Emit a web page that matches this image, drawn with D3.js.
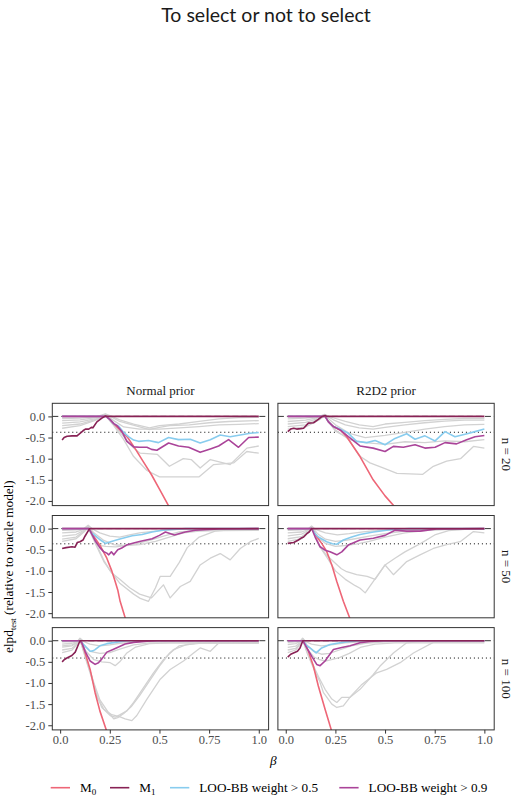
<!DOCTYPE html>
<html>
<head>
<meta charset="utf-8">
<script src="https://cdn.jsdelivr.net/npm/d3@7"></script>
<style>
  body { margin: 0; background: #fff; }
</style>
</head>
<body>
<div id="chart"></div>
<script>
// ---- data -------------------------------------------------------------
const priors = ['Normal prior', 'R2D2 prior'];
const sizes = ['n = 20', 'n = 50', 'n = 100'];
const xTicks = [0, 0.25, 0.5, 0.75, 1];
const xTickLabels = ['0.0', '0.25', '0.5', '0.75', '1.0'];
const yTicks = [0, -0.5, -1, -1.5, -2];
const yTickLabels = ['0.0', '-0.5', '-1.0', '-1.5', '-2.0'];
const refLevel = [-0.375, -0.36, -0.41]; // dotted line, one per n

// [beta, elpd] pairs, one list per panel:
// normal n20, r2d2 n20, normal n50, r2d2 n50, normal n100, r2d2 n100
const m0 = [
  [[0.01,0],[0.23,0],[0.25,-0.07],[0.28,-0.22],[0.31,-0.36],[0.34,-0.5],[0.38,-0.78],[0.42,-1.08],[0.46,-1.38],[0.5,-1.72],[0.55,-2.15]],
  [[0.01,0],[0.198,0],[0.215,-0.13],[0.24,-0.24],[0.274,-0.32],[0.307,-0.48],[0.374,-0.95],[0.44,-1.5],[0.5,-1.88],[0.56,-2.2]],
  [[0.01,0],[0.145,0],[0.16,-0.1],[0.175,-0.22],[0.2,-0.39],[0.235,-0.7],[0.26,-1.0],[0.277,-1.25],[0.29,-1.45],[0.302,-1.72],[0.33,-2.15]],
  [[0.01,0],[0.131,0],[0.15,-0.15],[0.181,-0.35],[0.206,-0.54],[0.232,-0.86],[0.257,-1.25],[0.29,-1.72],[0.325,-2.15]],
  [[0.01,0],[0.1,0],[0.113,-0.1],[0.126,-0.29],[0.151,-0.68],[0.176,-1.23],[0.2,-1.66],[0.235,-2.15]],
  [[0.01,0],[0.086,0],[0.1,-0.1],[0.114,-0.25],[0.139,-0.6],[0.164,-1.07],[0.198,-1.62],[0.23,-2.12]]
];
const m1 = [
  [[0.01,-0.56],[0.02,-0.5],[0.035,-0.47],[0.06,-0.46],[0.085,-0.46],[0.1,-0.4],[0.115,-0.34],[0.127,-0.3],[0.144,-0.3],[0.157,-0.26],[0.165,-0.27],[0.185,-0.13],[0.21,-0.04],[0.228,0.01],[0.24,0],[1,0]],
  [[0.01,-0.36],[0.025,-0.3],[0.04,-0.28],[0.055,-0.3],[0.075,-0.29],[0.09,-0.28],[0.114,-0.16],[0.14,-0.15],[0.164,-0.07],[0.18,-0.01],[0.198,0.02],[0.21,0],[1,0]],
  [[0.01,-0.47],[0.03,-0.45],[0.06,-0.43],[0.075,-0.44],[0.086,-0.33],[0.1,-0.31],[0.115,-0.27],[0.125,-0.18],[0.148,0],[1,0]],
  [[0.01,-0.35],[0.04,-0.33],[0.064,-0.27],[0.076,-0.23],[0.09,-0.2],[0.106,-0.12],[0.118,-0.08],[0.131,0],[1,0]],
  [[0.01,-0.5],[0.02,-0.45],[0.034,-0.41],[0.059,-0.35],[0.076,-0.27],[0.092,-0.09],[0.1,0],[1,0]],
  [[0.01,-0.39],[0.025,-0.32],[0.039,-0.29],[0.059,-0.25],[0.072,-0.17],[0.086,0],[1,0]]
];
const looBB05 = [
  [[0.01,0],[0.23,0],[0.25,-0.07],[0.27,-0.17],[0.294,-0.23],[0.32,-0.38],[0.344,-0.48],[0.37,-0.56],[0.395,-0.59],[0.445,-0.57],[0.495,-0.62],[0.546,-0.5],[0.596,-0.55],[0.655,-0.54],[0.705,-0.63],[0.756,-0.55],[0.806,-0.44],[0.856,-0.48],[0.907,-0.44],[0.957,-0.4],[1,-0.38]],
  [[0.01,0],[0.198,0],[0.215,-0.13],[0.24,-0.24],[0.274,-0.3],[0.315,-0.4],[0.357,-0.59],[0.408,-0.62],[0.45,-0.57],[0.5,-0.67],[0.55,-0.52],[0.609,-0.41],[0.651,-0.54],[0.701,-0.46],[0.752,-0.58],[0.802,-0.36],[0.852,-0.48],[0.903,-0.42],[0.953,-0.36],[1,-0.3]],
  [[0.01,0],[0.145,0],[0.158,-0.1],[0.17,-0.14],[0.203,-0.27],[0.228,-0.35],[0.254,-0.31],[0.296,-0.25],[0.363,-0.17],[0.413,-0.14],[0.463,-0.08],[0.514,-0.04],[0.564,-0.02],[0.63,0],[1,0]],
  [[0.01,0],[0.131,0],[0.148,-0.12],[0.164,-0.2],[0.206,-0.31],[0.235,-0.36],[0.257,-0.37],[0.29,-0.27],[0.332,-0.2],[0.374,-0.14],[0.441,-0.08],[0.508,-0.04],[0.575,-0.01],[0.62,0],[1,0]],
  [[0.01,0],[0.1,0],[0.118,-0.09],[0.151,-0.25],[0.165,-0.24],[0.176,-0.21],[0.2,-0.12],[0.235,-0.07],[0.277,-0.04],[0.336,0],[1,0]],
  [[0.01,0],[0.086,0],[0.106,-0.12],[0.122,-0.17],[0.153,-0.29],[0.181,-0.17],[0.223,-0.09],[0.273,-0.05],[0.324,-0.02],[0.374,0],[1,0]]
];
const looBB09 = [
  [[0.01,0],[0.23,0],[0.25,-0.07],[0.27,-0.17],[0.287,-0.22],[0.31,-0.35],[0.336,-0.59],[0.37,-0.72],[0.4,-0.73],[0.437,-0.73],[0.46,-0.78],[0.487,-0.8],[0.546,-0.63],[0.596,-0.7],[0.647,-0.73],[0.705,-0.85],[0.756,-0.77],[0.798,-0.7],[0.848,-0.55],[0.898,-0.73],[0.949,-0.5],[1,-0.49]],
  [[0.01,0],[0.198,0],[0.215,-0.13],[0.24,-0.24],[0.274,-0.32],[0.315,-0.48],[0.374,-0.7],[0.44,-0.75],[0.5,-0.83],[0.542,-0.71],[0.592,-0.73],[0.651,-0.67],[0.701,-0.75],[0.752,-0.73],[0.802,-0.62],[0.86,-0.65],[0.911,-0.55],[0.953,-0.48],[1,-0.45]],
  [[0.01,0],[0.145,0],[0.158,-0.12],[0.178,-0.3],[0.2,-0.45],[0.22,-0.55],[0.235,-0.58],[0.245,-0.62],[0.258,-0.55],[0.27,-0.62],[0.29,-0.5],[0.31,-0.46],[0.338,-0.38],[0.37,-0.34],[0.405,-0.3],[0.463,-0.24],[0.5,-0.16],[0.53,-0.08],[0.575,-0.15],[0.63,-0.08],[0.68,-0.04],[0.8,-0.01],[1,0]],
  [[0.01,0],[0.131,0],[0.148,-0.2],[0.173,-0.43],[0.198,-0.51],[0.223,-0.55],[0.257,-0.62],[0.282,-0.55],[0.315,-0.39],[0.374,-0.27],[0.441,-0.23],[0.5,-0.16],[0.55,-0.04],[0.609,-0.06],[0.676,-0.06],[0.76,-0.01],[1,0]],
  [[0.01,0],[0.1,0],[0.109,-0.05],[0.126,-0.25],[0.151,-0.48],[0.176,-0.56],[0.193,-0.52],[0.21,-0.43],[0.235,-0.27],[0.269,-0.2],[0.294,-0.15],[0.327,-0.08],[0.37,-0.04],[0.437,-0.01],[0.487,0],[1,0]],
  [[0.01,0],[0.086,0],[0.106,-0.17],[0.131,-0.37],[0.156,-0.56],[0.173,-0.59],[0.198,-0.48],[0.215,-0.37],[0.24,-0.21],[0.282,-0.16],[0.324,-0.12],[0.374,-0.05],[0.424,-0.02],[0.49,0],[1,0]]
];
// other selection rules, drawn in grey
const others = [
  [
    [[0.01,-0.05],[0.1,-0.04],[0.18,-0.01],[0.228,0.06],[0.26,0],[0.3,-0.08],[0.37,-0.18],[0.45,-0.27],[0.5,-0.22],[0.6,-0.18],[0.7,-0.12],[0.8,-0.06],[0.9,-0.03],[1,-0.02]],
    [[0.01,-0.1],[0.1,-0.08],[0.18,-0.03],[0.228,0.05],[0.26,-0.02],[0.3,-0.12],[0.4,-0.25],[0.45,-0.31],[0.5,-0.26],[0.55,-0.22],[0.65,-0.2],[0.75,-0.15],[0.85,-0.12],[1,-0.1]],
    [[0.01,-0.16],[0.1,-0.13],[0.18,-0.05],[0.228,0.04],[0.27,-0.1],[0.32,-0.25],[0.4,-0.3],[0.5,-0.3],[0.6,-0.27],[0.7,-0.24],[0.8,-0.2],[0.9,-0.19],[1,-0.17]],
    [[0.01,-0.22],[0.1,-0.18],[0.18,-0.07],[0.228,0.03],[0.27,-0.2],[0.32,-0.48],[0.37,-0.75],[0.403,-0.87],[0.49,-0.9],[0.55,-1.18],[0.62,-1.0],[0.66,-1.02],[0.705,-1.22],[0.756,-1.02],[0.856,-1.14],[0.94,-0.75],[1,-0.7]],
    [[0.01,-0.28],[0.1,-0.22],[0.18,-0.09],[0.228,0.02],[0.27,-0.22],[0.32,-0.55],[0.37,-0.95],[0.437,-1.28],[0.5,-1.43],[0.7,-1.43],[0.773,-1.14],[0.873,-1.1],[0.94,-0.83],[1,-0.87]]
  ],
  [
    [[0.01,-0.06],[0.1,-0.04],[0.17,0],[0.195,0.05],[0.23,-0.02],[0.3,-0.12],[0.37,-0.2],[0.44,-0.24],[0.5,-0.18],[0.6,-0.14],[0.7,-0.1],[0.8,-0.07],[0.9,-0.05],[1,-0.05]],
    [[0.01,-0.12],[0.1,-0.09],[0.17,-0.02],[0.195,0.04],[0.24,-0.08],[0.3,-0.2],[0.37,-0.27],[0.44,-0.3],[0.5,-0.26],[0.6,-0.2],[0.7,-0.15],[0.8,-0.11],[0.9,-0.09],[1,-0.09]],
    [[0.01,-0.18],[0.1,-0.14],[0.17,-0.04],[0.195,0.03],[0.25,-0.2],[0.32,-0.4],[0.4,-0.5],[0.5,-0.45],[0.6,-0.38],[0.7,-0.3],[0.8,-0.24],[0.9,-0.2],[1,-0.19]],
    [[0.01,-0.24],[0.1,-0.2],[0.17,-0.06],[0.195,0.02],[0.25,-0.32],[0.32,-0.55],[0.4,-0.62],[0.5,-0.66],[0.6,-0.6],[0.7,-0.62],[0.8,-0.58],[0.9,-0.6],[1,-0.55]],
    [[0.01,-0.3],[0.1,-0.25],[0.17,-0.08],[0.195,0.01],[0.25,-0.35],[0.31,-0.5],[0.37,-0.93],[0.424,-1.1],[0.49,-1.22],[0.56,-1.35],[0.69,-1.37],[0.743,-1.18],[0.81,-1.06],[0.88,-1.0],[0.945,-0.71],[1,-0.75]]
  ],
  [
    [[0.01,-0.04],[0.08,-0.03],[0.12,0],[0.141,0.08],[0.16,0],[0.2,-0.1],[0.25,-0.18],[0.3,-0.2],[0.35,-0.15],[0.4,-0.1],[0.5,-0.05],[0.6,-0.02],[0.8,0],[1,0]],
    [[0.01,-0.1],[0.08,-0.08],[0.12,-0.02],[0.141,0.06],[0.17,-0.1],[0.22,-0.28],[0.27,-0.38],[0.32,-0.4],[0.38,-0.36],[0.45,-0.28],[0.52,-0.18],[0.6,-0.08],[0.7,-0.04],[0.8,-0.02],[1,-0.02]],
    [[0.01,-0.18],[0.08,-0.14],[0.12,-0.04],[0.141,0.04],[0.17,-0.2],[0.2,-0.4],[0.23,-0.42],[0.28,-0.43],[0.33,-0.4],[0.4,-0.38],[0.48,-0.3],[0.55,-0.2],[0.62,-0.1],[0.7,-0.06],[0.8,-0.05],[1,-0.04]],
    [[0.01,-0.25],[0.08,-0.2],[0.12,-0.06],[0.141,0.03],[0.18,-0.35],[0.22,-0.75],[0.252,-1.0],[0.302,-1.3],[0.37,-1.55],[0.403,-1.65],[0.445,-1.72],[0.48,-1.4],[0.504,-1.13],[0.554,-1.13],[0.6,-0.8],[0.64,-0.45],[0.7,-0.2],[0.78,-0.06],[0.85,-0.03],[1,-0.03]],
    [[0.01,-0.3],[0.08,-0.24],[0.12,-0.08],[0.141,0.02],[0.18,-0.38],[0.22,-0.78],[0.26,-1.05],[0.3,-1.2],[0.35,-1.4],[0.4,-1.55],[0.46,-1.64],[0.52,-1.33],[0.554,-1.64],[0.605,-1.37],[0.655,-1.25],[0.705,-0.86],[0.756,-0.7],[0.806,-0.59],[0.856,-0.74],[0.907,-0.47],[0.957,-0.31],[1,-0.23]]
  ],
  [
    [[0.01,-0.04],[0.08,-0.03],[0.115,0],[0.13,0.06],[0.15,-0.02],[0.2,-0.1],[0.26,-0.15],[0.32,-0.12],[0.4,-0.07],[0.5,-0.03],[0.6,-0.01],[1,0]],
    [[0.01,-0.1],[0.08,-0.08],[0.115,-0.02],[0.13,0.05],[0.16,-0.12],[0.2,-0.25],[0.25,-0.3],[0.3,-0.28],[0.35,-0.24],[0.42,-0.18],[0.5,-0.12],[0.6,-0.06],[0.7,-0.03],[1,-0.01]],
    [[0.01,-0.17],[0.08,-0.13],[0.115,-0.04],[0.13,0.04],[0.16,-0.2],[0.2,-0.35],[0.25,-0.42],[0.3,-0.4],[0.36,-0.36],[0.42,-0.3],[0.5,-0.2],[0.6,-0.1],[0.7,-0.05],[0.8,-0.02],[1,-0.02]],
    [[0.01,-0.24],[0.08,-0.19],[0.115,-0.06],[0.13,0.03],[0.17,-0.4],[0.2,-0.6],[0.24,-0.78],[0.28,-0.95],[0.307,-1.02],[0.357,-1.09],[0.41,-1.13],[0.45,-1.2],[0.5,-0.86],[0.55,-0.7],[0.6,-0.55],[0.68,-0.35],[0.75,-0.15],[0.82,-0.05],[0.9,-0.02],[1,-0.02]],
    [[0.01,-0.3],[0.08,-0.24],[0.115,-0.08],[0.13,0.02],[0.17,-0.42],[0.21,-0.7],[0.25,-1.0],[0.3,-1.2],[0.35,-1.35],[0.374,-1.41],[0.4,-1.52],[0.441,-1.25],[0.5,-0.86],[0.542,-1.09],[0.609,-0.78],[0.676,-0.62],[0.743,-0.47],[0.81,-0.38],[0.878,-0.31],[0.945,-0.07],[1,-0.1]]
  ],
  [
    [[0.01,-0.03],[0.06,-0.02],[0.09,0],[0.1,0.06],[0.12,-0.02],[0.15,-0.08],[0.2,-0.12],[0.25,-0.1],[0.3,-0.06],[0.4,-0.03],[0.5,-0.01],[1,0]],
    [[0.01,-0.08],[0.06,-0.06],[0.09,-0.01],[0.1,0.05],[0.12,-0.1],[0.15,-0.25],[0.2,-0.3],[0.25,-0.28],[0.3,-0.2],[0.37,-0.1],[0.45,-0.05],[0.55,-0.05],[0.7,-0.05],[1,-0.05]],
    [[0.01,-0.15],[0.06,-0.12],[0.09,-0.03],[0.1,0.04],[0.13,-0.25],[0.17,-0.45],[0.21,-0.5],[0.252,-0.52],[0.277,-0.59],[0.3,-0.5],[0.336,-0.29],[0.38,-0.15],[0.45,-0.07],[0.55,-0.05],[1,-0.05]],
    [[0.01,-0.12],[0.06,-0.1],[0.09,-0.02],[0.1,0.05],[0.13,-0.42],[0.17,-1.0],[0.2,-1.4],[0.24,-1.68],[0.27,-1.85],[0.29,-1.82],[0.32,-1.72],[0.36,-1.55],[0.4,-1.3],[0.45,-0.95],[0.5,-0.6],[0.55,-0.3],[0.6,-0.12],[0.7,-0.05],[1,-0.05]],
    [[0.01,-0.22],[0.06,-0.18],[0.09,-0.05],[0.1,0.03],[0.13,-0.4],[0.16,-0.85],[0.185,-1.3],[0.21,-1.58],[0.252,-1.77],[0.277,-1.81],[0.302,-1.75],[0.336,-1.66],[0.37,-1.46],[0.403,-1.23],[0.47,-0.76],[0.52,-0.45],[0.571,-0.21],[0.638,-0.09],[0.7,-0.06],[1,-0.05]],
    [[0.01,-0.28],[0.06,-0.22],[0.09,-0.06],[0.1,0.02],[0.13,-0.45],[0.16,-0.9],[0.19,-1.35],[0.22,-1.62],[0.26,-1.75],[0.302,-1.8],[0.327,-1.85],[0.361,-1.89],[0.386,-1.77],[0.437,-1.38],[0.504,-0.91],[0.554,-0.68],[0.621,-0.48],[0.672,-0.29],[0.705,-0.17],[0.756,-0.25],[0.806,-0.02],[1,-0.05]]
  ],
  [
    [[0.01,-0.04],[0.05,-0.03],[0.075,0],[0.085,0.06],[0.1,-0.02],[0.13,-0.08],[0.18,-0.12],[0.23,-0.1],[0.3,-0.05],[0.4,-0.02],[1,0]],
    [[0.01,-0.09],[0.05,-0.07],[0.075,-0.01],[0.085,0.05],[0.11,-0.12],[0.14,-0.25],[0.18,-0.32],[0.22,-0.3],[0.27,-0.22],[0.33,-0.12],[0.4,-0.06],[0.5,-0.03],[0.6,-0.02],[1,-0.02]],
    [[0.01,-0.16],[0.05,-0.13],[0.075,-0.03],[0.085,0.04],[0.11,-0.2],[0.14,-0.38],[0.17,-0.45],[0.2,-0.48],[0.23,-0.45],[0.27,-0.4],[0.32,-0.3],[0.38,-0.15],[0.45,-0.08],[0.55,-0.05],[0.7,-0.05],[1,-0.05]],
    [[0.01,-0.22],[0.05,-0.18],[0.075,-0.05],[0.085,0.03],[0.11,-0.3],[0.14,-0.6],[0.164,-0.84],[0.198,-1.15],[0.232,-1.38],[0.257,-1.46],[0.282,-1.34],[0.324,-1.34],[0.374,-1.15],[0.441,-0.8],[0.475,-0.6],[0.542,-0.29],[0.609,-0.05],[0.7,-0.01],[1,0]],
    [[0.01,-0.28],[0.05,-0.22],[0.075,-0.06],[0.085,0.02],[0.11,-0.32],[0.14,-0.65],[0.17,-0.95],[0.19,-1.23],[0.232,-1.5],[0.257,-1.58],[0.29,-1.54],[0.33,-1.3],[0.38,-1.05],[0.42,-0.9],[0.458,-0.76],[0.508,-0.68],[0.576,-0.52],[0.643,-0.29],[0.743,-0.04],[1,-0.02]]
  ]
];

const legendLabels = [['M', '0'], ['M', '1'], ['LOO-BB weight > 0.5', ''], ['LOO-BB weight > 0.9', '']];

// ---- layout -----------------------------------------------------------
const width = 518, height = 801;
const panelW = 216.3, panelH = 102.3;
const colX = [52.3, 277.9];
const rowY = [403.3, 515.5, 627.6];
const serif = '"Liberation Serif", "DejaVu Serif", serif';
const colors = { m0: '#EE6677', m1: '#882255', bb05: '#88CCEE', bb09: '#AA4499', other: '#d2d2d2' };

const svg = d3.select('#chart').append('svg')
  .attr('width', width)
  .attr('height', height)
  .style('font-family', serif);

svg.append('text')
  .attr('x', 266)
  .attr('y', 22)
  .attr('text-anchor', 'middle')
  .style('font-family', 'Lato, "Open Sans", sans-serif')
  .style('font-size', '19.5px')
  .attr('fill', '#1a1a1a')
  .text('To select or not to select');

let x = d3.scaleLinear().domain([-0.0395, 1.0495]).range([0, panelW]);
let y = d3.scaleLinear().domain([-2.11, 0.31]).range([panelH, 0]);
let line = d3.line().x(d => x(d[0])).y(d => y(d[1]));

let defs = svg.append('defs');

sizes.forEach((n, r) => {
  priors.forEach((prior, c) => {
    const i = r * 2 + c;
    let g = svg.append('g').attr('transform', `translate(${colX[c]}, ${rowY[r]})`);

    defs.append('clipPath').attr('id', `clip-${i}`)
      .append('rect').attr('width', panelW).attr('height', panelH);

    let plot = g.append('g').attr('clip-path', `url(#clip-${i})`);

    // reference lines
    plot.append('line')
      .attr('x1', 0).attr('x2', panelW)
      .attr('y1', y(0)).attr('y2', y(0))
      .attr('stroke', '#000').attr('stroke-width', 0.8)
      .attr('stroke-dasharray', '6,3');
    plot.append('line')
      .attr('x1', 0).attr('x2', panelW)
      .attr('y1', y(refLevel[r])).attr('y2', y(refLevel[r]))
      .attr('stroke', '#000').attr('stroke-width', 1)
      .attr('stroke-dasharray', '1,3');

    plot.selectAll('path.other')
      .data(others[i])
      .join('path')
      .attr('class', 'other')
      .attr('d', line)
      .attr('fill', 'none')
      .attr('stroke', colors.other)
      .attr('stroke-width', 1.3)
      .attr('stroke-linejoin', 'round');

    [[m0[i], colors.m0], [looBB05[i], colors.bb05], [looBB09[i], colors.bb09], [m1[i], colors.m1]]
      .forEach(([pts, col]) => {
        plot.append('path')
          .attr('d', line(pts))
          .attr('fill', 'none')
          .attr('stroke', col)
          .attr('stroke-width', 1.6)
          .attr('stroke-linejoin', 'round');
      });

    g.append('rect')
      .attr('width', panelW).attr('height', panelH)
      .attr('fill', 'none').attr('stroke', '#333').attr('stroke-width', 1);

    if (c === 0) {
      let ya = g.append('g')
        .call(d3.axisLeft(y).tickValues(yTicks).tickFormat((d, k) => yTickLabels[k]).tickSize(4).tickPadding(3));
      ya.select('.domain').remove();
      ya.attr('font-family', serif).attr('font-size', 12.5);
      ya.selectAll('line').attr('stroke', '#333');
      ya.selectAll('text').attr('fill', '#4d4d4d');
    }
    if (r === sizes.length - 1) {
      let xa = g.append('g')
        .attr('transform', `translate(0, ${panelH})`)
        .call(d3.axisBottom(x).tickValues(xTicks).tickFormat((d, k) => xTickLabels[k]).tickSize(3.7).tickPadding(1.5));
      xa.select('.domain').remove();
      xa.attr('font-family', serif).attr('font-size', 12.5);
      xa.selectAll('line').attr('stroke', '#333');
      xa.selectAll('text').attr('fill', '#4d4d4d');
    }
    if (r === 0) {
      g.append('text')
        .attr('x', panelW / 2).attr('y', -8.5)
        .attr('text-anchor', 'middle')
        .style('font-size', '13px').attr('fill', '#1a1a1a')
        .text(prior);
    }
    if (c === priors.length - 1) {
      g.append('text')
        .attr('transform', `translate(${panelW + 8.2}, ${panelH / 2}) rotate(90)`)
        .attr('text-anchor', 'middle')
        .style('font-size', '13px').attr('fill', '#1a1a1a')
        .text(n);
    }
  });
});

// axis titles
let yTitle = svg.append('text')
  .attr('transform', `translate(12.5, ${(rowY[0] + rowY[2] + panelH) / 2}) rotate(-90)`)
  .attr('text-anchor', 'middle')
  .style('font-size', '13.3px')
  .attr('fill', '#000');
yTitle.append('tspan').text('elpd');
yTitle.append('tspan').attr('dy', 3).style('font-size', '8.5px').text('test');
yTitle.append('tspan').attr('dy', -3).text(' (relative to oracle model)');

svg.append('text')
  .attr('x', (colX[0] + colX[1] + panelW) / 2)
  .attr('y', 765)
  .attr('text-anchor', 'middle')
  .style('font-size', '13.3px')
  .style('font-style', 'italic')
  .text('β');

// legend
const legendX = [50.7, 110, 170, 339.3];
const legendColors = [colors.m0, colors.m1, colors.bb05, colors.bb09];
let legend = svg.append('g').attr('transform', 'translate(0, 787.7)');
legendLabels.forEach(([label, sub], k) => {
  legend.append('line')
    .attr('x1', legendX[k]).attr('x2', legendX[k] + 19.3)
    .attr('stroke', legendColors[k]).attr('stroke-width', 1.6);
  let t = legend.append('text')
    .attr('x', legendX[k] + 29.3).attr('y', 4.5)
    .style('font-size', '13.2px');
  t.append('tspan').text(label);
  if (sub) t.append('tspan').attr('dy', 3).style('font-size', '9px').text(sub);
});
</script>
</body>
</html>
